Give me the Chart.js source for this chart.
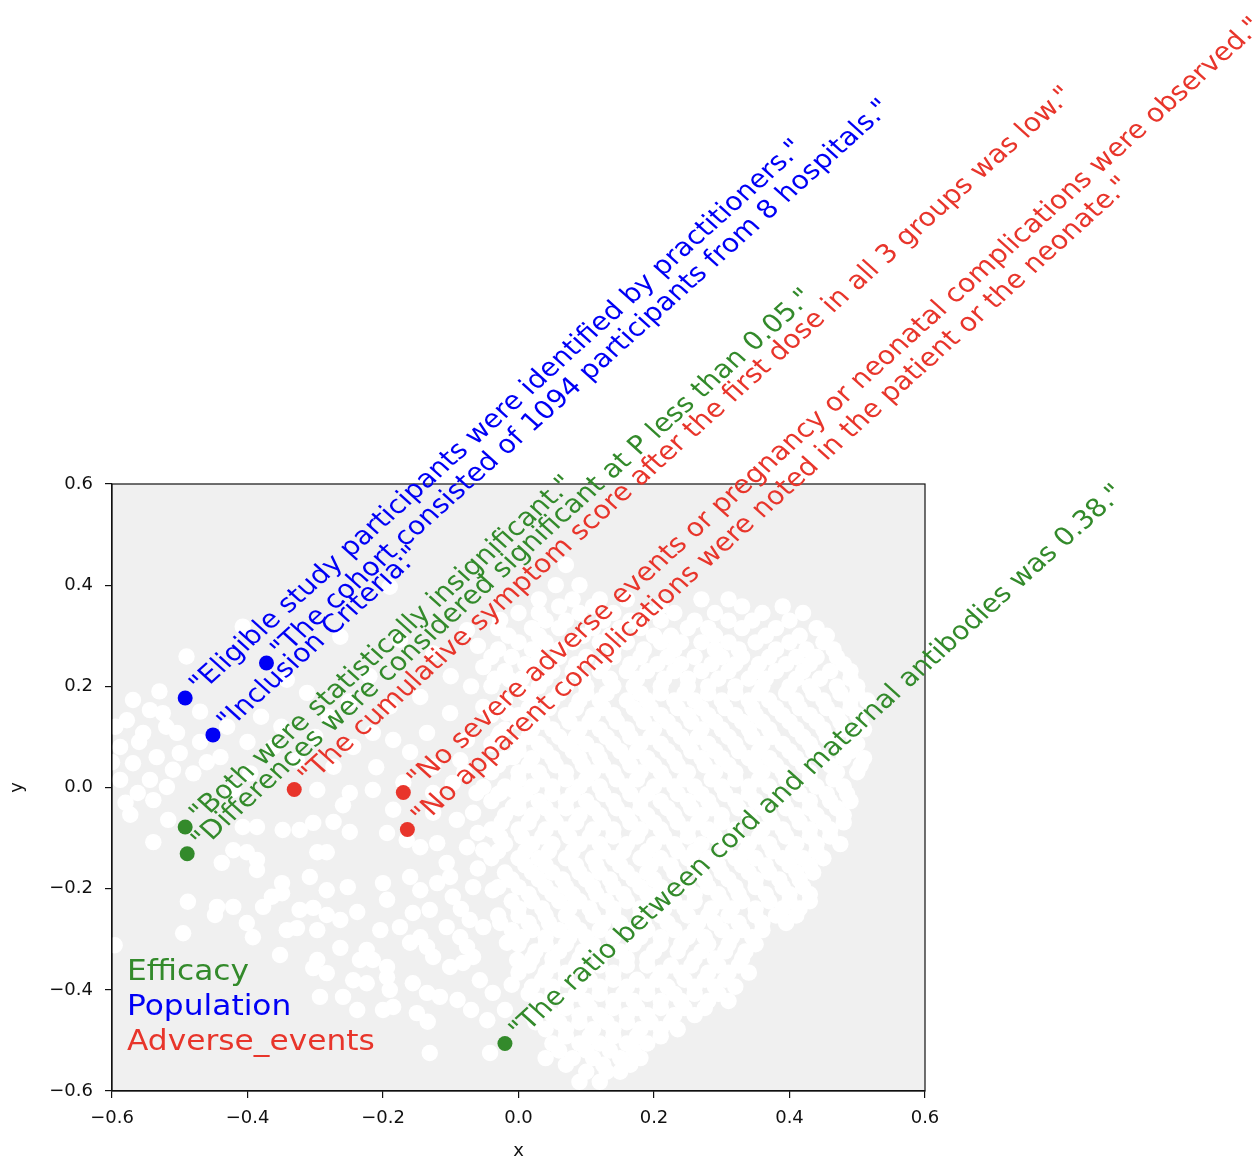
<!DOCTYPE html>
<html><head><meta charset="utf-8">
<script src="https://cdn.jsdelivr.net/npm/chart.js@4.4.1/dist/chart.umd.min.js"></script>
<style>html,body{margin:0;padding:0;background:#fff}</style>
</head><body>
<canvas id="c" width="1260" height="1158"></canvas>
<script>
// ---- categories / legend ----
const categories = ['Efficacy', 'Population', 'Adverse_events'];
const categoryColors = ['#338a2b', '#0000f5', '#e8352b'];

// ---- annotated points ----
const efficacyX = [-0.492, -0.489, -0.020];
const efficacyY = [-0.078, -0.131, -0.506];
const efficacyText = [
  '"Both were statistically insignificant."',
  '"Differences were considered significant at P less than 0.05."',
  '"The ratio between cord and maternal antibodies was 0.38."'
];
const populationX = [-0.492, -0.372, -0.451];
const populationY = [0.177, 0.246, 0.104];
const populationText = [
  '"Eligible study participants were identified by practitioners."',
  '"The cohort consisted of 1094 participants from 8 hospitals."',
  '"Inclusion Criteria:"'
];
const adverseX = [-0.331, -0.170, -0.164];
const adverseY = [-0.004, -0.010, -0.083];
const adverseText = [
  '"The cumulative symptom score after the first dose in all 3 groups was low."',
  '"No severe adverse events or pregnancy or neonatal complications were observed."',
  '"No apparent complications were noted in the patient or the neonate."'
];

// ---- axis ticks ----
const xTicks = [-0.6, -0.4, -0.2, 0.0, 0.2, 0.4, 0.6];
const yTicks = [-0.6, -0.4, -0.2, 0.0, 0.2, 0.4, 0.6];

// ---- background cloud: dense core, rows of [y, [x...]] ----
const cloudRows = [
  [0.44, [0.07]],
  [0.40, [0.055, 0.09]],
  [0.372, [0.03, 0.08, 0.12, 0.16, 0.27, 0.31]],
  [0.345, [0.00, 0.03, 0.09, 0.14, 0.19, 0.23, 0.29, 0.36, 0.42]],
  [0.315, [-0.03, 0.02, 0.06, 0.11, 0.15, 0.18, 0.25, 0.28, 0.33, 0.38, 0.44]],
  [0.287, [0.00, 0.04, 0.08, 0.12, 0.16, 0.21, 0.24, 0.27, 0.31, 0.35, 0.40, 0.45]],
  [0.258, [-0.04, -0.01, 0.03, 0.06, 0.10, 0.14, 0.18, 0.22, 0.26, 0.30, 0.33, 0.37, 0.41, 0.44, 0.47]],
  [0.23, [-0.02, 0.02, 0.05, 0.08, 0.12, 0.16, 0.19, 0.23, 0.27, 0.31, 0.35, 0.38, 0.42, 0.46, 0.49]],
  [0.20, [-0.04, 0.00, 0.03, 0.07, 0.10, 0.14, 0.17, 0.21, 0.25, 0.28, 0.32, 0.36, 0.40, 0.43, 0.47, 0.50]],
  [0.172, [-0.02, 0.02, 0.05, 0.09, 0.12, 0.16, 0.19, 0.23, 0.26, 0.30, 0.34, 0.37, 0.41, 0.45, 0.49, 0.515]],
  [0.143, [-0.04, 0.00, 0.03, 0.07, 0.11, 0.14, 0.18, 0.21, 0.25, 0.28, 0.32, 0.35, 0.39, 0.43, 0.47, 0.50]],
  [0.115, [-0.02, 0.02, 0.05, 0.09, 0.12, 0.16, 0.20, 0.23, 0.27, 0.30, 0.34, 0.37, 0.41, 0.45, 0.48, 0.51]],
  [0.086, [-0.04, 0.00, 0.03, 0.07, 0.10, 0.14, 0.18, 0.21, 0.25, 0.28, 0.32, 0.36, 0.39, 0.43, 0.47, 0.50]],
  [0.058, [-0.02, 0.02, 0.05, 0.09, 0.12, 0.16, 0.19, 0.23, 0.27, 0.30, 0.34, 0.37, 0.41, 0.45, 0.48, 0.51]],
  [0.03, [-0.04, 0.00, 0.03, 0.07, 0.11, 0.14, 0.18, 0.21, 0.25, 0.29, 0.32, 0.36, 0.39, 0.43, 0.47, 0.50]],
  [0.002, [-0.02, 0.02, 0.05, 0.09, 0.12, 0.16, 0.20, 0.23, 0.26, 0.30, 0.34, 0.37, 0.41, 0.44, 0.48]],
  [-0.027, [-0.04, 0.00, 0.03, 0.07, 0.10, 0.14, 0.18, 0.21, 0.25, 0.28, 0.32, 0.35, 0.39, 0.43, 0.46, 0.49]],
  [-0.055, [-0.02, 0.02, 0.05, 0.09, 0.12, 0.16, 0.19, 0.23, 0.27, 0.30, 0.34, 0.37, 0.41, 0.44, 0.48]],
  [-0.083, [-0.04, 0.00, 0.04, 0.07, 0.11, 0.14, 0.18, 0.21, 0.25, 0.28, 0.32, 0.36, 0.39, 0.43, 0.46]],
  [-0.112, [-0.02, 0.02, 0.05, 0.09, 0.12, 0.16, 0.20, 0.23, 0.27, 0.30, 0.34, 0.37, 0.41, 0.44, 0.475]],
  [-0.14, [-0.04, 0.00, 0.03, 0.07, 0.11, 0.14, 0.18, 0.21, 0.25, 0.28, 0.32, 0.35, 0.39, 0.42, 0.45]],
  [-0.168, [-0.02, 0.02, 0.05, 0.09, 0.12, 0.16, 0.19, 0.23, 0.27, 0.30, 0.34, 0.37, 0.41, 0.435]],
  [-0.197, [-0.03, 0.00, 0.04, 0.07, 0.11, 0.14, 0.18, 0.21, 0.25, 0.28, 0.32, 0.35, 0.39, 0.42]],
  [-0.225, [-0.01, 0.02, 0.06, 0.09, 0.13, 0.16, 0.20, 0.23, 0.26, 0.30, 0.33, 0.37, 0.40, 0.43]],
  [-0.253, [-0.03, 0.00, 0.04, 0.07, 0.11, 0.14, 0.18, 0.21, 0.25, 0.28, 0.31, 0.35, 0.38, 0.41]],
  [-0.282, [-0.01, 0.02, 0.06, 0.09, 0.12, 0.16, 0.19, 0.23, 0.26, 0.30, 0.33, 0.36]],
  [-0.31, [0.00, 0.04, 0.07, 0.11, 0.17, 0.21, 0.24, 0.28, 0.31, 0.35]],
  [-0.338, [0.02, 0.05, 0.09, 0.12, 0.16, 0.19, 0.26, 0.29, 0.33]],
  [-0.366, [0.00, 0.04, 0.07, 0.10, 0.14, 0.21, 0.24, 0.28, 0.31, 0.34]],
  [-0.394, [0.02, 0.05, 0.09, 0.12, 0.16, 0.19, 0.22, 0.26, 0.29, 0.32]],
  [-0.422, [0.03, 0.07, 0.10, 0.14, 0.17, 0.21, 0.24, 0.28, 0.31]],
  [-0.45, [0.02, 0.05, 0.09, 0.12, 0.16, 0.19, 0.23, 0.26]],
  [-0.478, [0.04, 0.07, 0.11, 0.14, 0.18, 0.21, 0.235]],
  [-0.506, [0.05, 0.09, 0.12, 0.16, 0.19]],
  [-0.535, [0.04, 0.08, 0.11, 0.15, 0.18]],
  [-0.562, [0.10, 0.13, 0.15]],
  [-0.582, [0.09, 0.12]]
];

// ---- background cloud: in-between rows of the core [y, [x...]] ----
const cloudRowsMid = [
  [0.358, [0.06, 0.11, 0.21, 0.33, 0.39]],
  [0.33, [0.04, 0.07, 0.125, 0.165, 0.21, 0.26, 0.31, 0.345, 0.40]],
  [0.30, [-0.015, 0.03, 0.095, 0.135, 0.20, 0.225, 0.29, 0.365, 0.415, 0.455]],
  [0.273, [-0.03, 0.02, 0.06, 0.14, 0.185, 0.23, 0.29, 0.325, 0.38, 0.425, 0.465]],
  [0.244, [0.01, 0.045, 0.085, 0.125, 0.165, 0.205, 0.24, 0.285, 0.32, 0.355, 0.395, 0.43, 0.48]],
  [0.215, [-0.035, 0.005, 0.04, 0.095, 0.135, 0.175, 0.215, 0.25, 0.295, 0.34, 0.365, 0.41, 0.445, 0.49]],
  [0.186, [0.01, 0.06, 0.10, 0.13, 0.18, 0.21, 0.245, 0.28, 0.32, 0.355, 0.395, 0.435, 0.475, 0.50]],
  [0.157, [-0.03, 0.015, 0.045, 0.085, 0.125, 0.17, 0.195, 0.235, 0.27, 0.305, 0.345, 0.38, 0.415, 0.455, 0.49]],
  [0.13, [0.00, 0.035, 0.075, 0.105, 0.145, 0.185, 0.22, 0.255, 0.29, 0.33, 0.36, 0.40, 0.44, 0.475, 0.505]],
  [0.10, [-0.03, 0.015, 0.06, 0.085, 0.13, 0.165, 0.195, 0.24, 0.265, 0.31, 0.345, 0.375, 0.42, 0.455, 0.495]],
  [0.072, [0.00, 0.04, 0.08, 0.115, 0.15, 0.175, 0.22, 0.255, 0.29, 0.325, 0.355, 0.40, 0.435, 0.49]],
  [0.044, [-0.03, 0.015, 0.055, 0.095, 0.125, 0.165, 0.20, 0.235, 0.275, 0.31, 0.35, 0.38, 0.42, 0.46, 0.505]],
  [0.016, [0.00, 0.035, 0.07, 0.10, 0.145, 0.175, 0.215, 0.245, 0.285, 0.32, 0.355, 0.395, 0.43, 0.465]],
  [-0.013, [-0.03, 0.01, 0.05, 0.08, 0.125, 0.165, 0.19, 0.235, 0.27, 0.305, 0.34, 0.38, 0.415, 0.455, 0.485]],
  [-0.041, [0.00, 0.04, 0.07, 0.11, 0.145, 0.18, 0.22, 0.255, 0.285, 0.325, 0.36, 0.395, 0.43, 0.47]],
  [-0.069, [-0.025, 0.015, 0.055, 0.085, 0.125, 0.165, 0.20, 0.235, 0.265, 0.30, 0.345, 0.375, 0.415, 0.45, 0.48]],
  [-0.097, [0.005, 0.035, 0.075, 0.105, 0.14, 0.175, 0.215, 0.25, 0.29, 0.32, 0.355, 0.395, 0.43, 0.46]],
  [-0.126, [-0.03, 0.01, 0.045, 0.08, 0.125, 0.155, 0.19, 0.235, 0.26, 0.305, 0.335, 0.375, 0.405, 0.44]],
  [-0.154, [0.01, 0.04, 0.085, 0.115, 0.15, 0.195, 0.225, 0.26, 0.295, 0.33, 0.365, 0.40, 0.43]],
  [-0.182, [-0.01, 0.03, 0.065, 0.10, 0.135, 0.17, 0.20, 0.24, 0.275, 0.31, 0.35, 0.385, 0.415]],
  [-0.211, [0.015, 0.05, 0.08, 0.115, 0.155, 0.19, 0.225, 0.26, 0.295, 0.325, 0.365, 0.40, 0.43]],
  [-0.239, [0.00, 0.035, 0.075, 0.105, 0.14, 0.18, 0.215, 0.245, 0.285, 0.315, 0.35, 0.39, 0.415]],
  [-0.268, [0.015, 0.045, 0.08, 0.125, 0.15, 0.185, 0.22, 0.265, 0.29, 0.325, 0.36, 0.395]],
  [-0.296, [0.005, 0.04, 0.075, 0.10, 0.14, 0.18, 0.21, 0.25, 0.275, 0.315, 0.345]],
  [-0.324, [0.025, 0.06, 0.095, 0.13, 0.15, 0.20, 0.235, 0.27, 0.305, 0.335]],
  [-0.352, [0.015, 0.05, 0.085, 0.12, 0.16, 0.19, 0.225, 0.255, 0.295, 0.325]],
  [-0.38, [0.035, 0.07, 0.105, 0.14, 0.175, 0.205, 0.245, 0.275, 0.305]],
  [-0.408, [0.015, 0.05, 0.085, 0.12, 0.155, 0.19, 0.23, 0.26, 0.295]],
  [-0.436, [0.04, 0.07, 0.105, 0.14, 0.175, 0.21, 0.245, 0.275]],
  [-0.464, [0.025, 0.06, 0.09, 0.13, 0.16, 0.195, 0.225]],
  [-0.492, [0.07, 0.105, 0.14, 0.175, 0.21]],
  [-0.52, [0.06, 0.10, 0.135, 0.17]],
  [-0.548, [0.07, 0.125, 0.165]]
];

// ---- background cloud: scattered points [x, y] ----
const cloudScatter = [
  [-0.562,-0.011],[-0.573,-0.054],[-0.539,-0.025],[-0.539,-0.108],[-0.517,-0.064],[-0.488,-0.226],
  [-0.495,-0.288],[-0.596,-0.312],[-0.445,-0.236],[-0.448,-0.252],[-0.421,-0.236],[-0.438,-0.149],
  [-0.421,-0.124],[-0.401,-0.128],[-0.386,-0.143],[-0.386,-0.163],[-0.401,-0.268],[-0.392,-0.296],
  [-0.377,-0.236],[-0.364,-0.216],[-0.349,-0.189],[-0.349,-0.209],[-0.407,-0.078],[-0.386,-0.078],
  [-0.348,-0.084],[-0.323,-0.084],[-0.303,-0.070],[-0.273,-0.068],[-0.249,-0.088],[-0.297,-0.128],
  [-0.283,-0.128],[-0.308,-0.177],[-0.283,-0.203],[-0.252,-0.197],[-0.200,-0.189],[-0.194,-0.222],
  [-0.323,-0.242],[-0.303,-0.238],[-0.283,-0.252],[-0.263,-0.262],[-0.342,-0.282],[-0.327,-0.278],
  [-0.297,-0.282],[-0.238,-0.246],[-0.204,-0.282],[-0.352,-0.331],[-0.297,-0.341],[-0.303,-0.357],
  [-0.283,-0.367],[-0.263,-0.317],[-0.224,-0.321],[-0.234,-0.341],[-0.215,-0.341],[-0.194,-0.355],
  [-0.244,-0.381],[-0.224,-0.387],[-0.194,-0.375],[-0.190,-0.400],[-0.293,-0.414],[-0.259,-0.414],
  [-0.238,-0.440],[-0.200,-0.440],[-0.185,-0.434],[-0.175,-0.276],[-0.160,-0.307],[-0.145,-0.296],
  [-0.135,-0.315],[-0.126,-0.335],[-0.156,-0.387],[-0.135,-0.406],[-0.116,-0.414],[-0.150,-0.446],
  [-0.134,-0.463],[-0.131,-0.525],[-0.160,-0.177],[-0.145,-0.203],[-0.120,-0.189],[-0.101,-0.177],
  [-0.097,-0.216],[-0.156,-0.248],[-0.131,-0.242],[-0.106,-0.276],[-0.086,-0.296],[-0.076,-0.315],
  [-0.101,-0.355],[-0.082,-0.347],[-0.067,-0.335],[-0.057,-0.381],[-0.038,-0.406],[-0.072,-0.262],
  [-0.052,-0.276],[-0.027,-0.268],[-0.067,-0.197],[-0.038,-0.203],[-0.013,-0.183],[-0.046,-0.460],
  [-0.042,-0.525],[-0.017,-0.307],[-0.002,-0.341],[-0.076,-0.118],[-0.052,-0.124],[-0.027,-0.098],
  [-0.120,-0.110],[-0.106,-0.149],[-0.165,-0.104],[-0.145,-0.118],[-0.194,-0.090],[-0.185,-0.044],
  [-0.126,-0.050],[-0.091,-0.064],[-0.067,-0.050],[-0.038,-0.084],[-0.126,-0.011],[-0.097,0.009],
  [-0.062,-0.011],[-0.027,-0.011],[-0.008,-0.038],[-0.259,-0.035],[-0.215,-0.005],[-0.297,-0.005],
  [-0.490,0.259],[-0.569,0.173],[-0.544,0.153],[-0.578,0.133],[-0.525,0.147],[-0.504,0.108],
  [-0.554,0.108],[-0.588,0.080],[-0.569,0.048],[-0.534,0.060],[-0.500,0.068],[-0.480,0.028],
  [-0.588,0.015],[-0.544,0.015],[-0.519,0.001],[-0.510,0.035],[-0.407,0.318],[-0.263,0.298],
  [-0.342,0.213],[-0.312,0.187],[-0.362,0.080],[-0.327,0.054],[-0.396,0.028],[-0.421,-0.005],
  [-0.273,0.041],[-0.244,0.080],[-0.215,0.108],[-0.249,-0.011],[-0.190,0.397],[-0.175,0.292],
  [-0.126,0.265],[-0.076,0.311],[-0.027,0.331],[-0.052,0.238],[-0.013,0.213],[-0.145,0.179],
  [-0.101,0.147],[-0.052,0.159],[-0.017,0.147],[-0.185,0.094],[-0.135,0.108],[-0.076,0.094],
  [-0.027,0.108],[-0.126,0.041],[-0.086,0.054],[-0.038,0.041],[-0.008,0.060],[-0.052,0.001],
  [-0.008,-0.005],[-0.595,0.120],[-0.560,0.090],[-0.520,0.120],[-0.470,0.090],[-0.460,0.050],
  [-0.580,-0.030],[-0.600,0.050],[-0.530,0.190],[-0.470,0.150],[-0.440,0.060],[-0.430,0.120],
  [-0.400,0.090],[-0.380,0.140],[-0.350,0.120],[-0.300,0.100],[-0.280,0.140],[-0.250,0.170],
  [-0.220,0.220],[-0.190,0.160],[-0.160,0.070],[-0.210,0.040],[-0.170,0.010],
  [-0.085,-0.240],[-0.060,-0.160],[-0.090,-0.420],[-0.070,-0.440],[-0.020,-0.440],[-0.010,-0.390],
  [-0.060,-0.090],[-0.080,0.030],[-0.070,0.200],[-0.100,0.220],[-0.060,0.280]
];

// ---- build chart data from the arrays ----
const cloudPoints = [];
cloudRows.concat(cloudRowsMid).forEach(([y, xs]) => xs.forEach(x => cloudPoints.push({x: x, y: y})));
cloudScatter.forEach(([x, y]) => cloudPoints.push({x: x, y: y}));
const toPts = (xs, ys) => xs.map((x, i) => ({x: x, y: ys[i]}));
const groupTexts = [efficacyText, populationText, adverseText];

const FONT = '"DejaVu Sans", "Liberation Sans", sans-serif';
const SX = 1.06, SY = 0.955;   // horizontal / vertical stretch of the reference figure
const ANNOT_SIZE = 26.7;
const LEGEND_SIZE = 29.5;

const fmtTick = v => (v < -1e-9 ? '\u2212' : '') + Math.abs(v).toFixed(1);

const overlayPlugin = {
  id: 'overlay',
  beforeDraw(chart) {
    const a = chart.chartArea, ctx = chart.ctx;
    ctx.save();
    ctx.fillStyle = '#f0f0f0';
    ctx.fillRect(a.left, a.top, a.right - a.left, a.bottom - a.top);
    ctx.restore();
  },
  afterDatasetsDraw(chart) {
    const a = chart.chartArea, ctx = chart.ctx;
    ctx.save();
    ctx.strokeStyle = '#111';
    ctx.lineWidth = 1.2;
    ctx.strokeRect(a.left, a.top, a.right - a.left, a.bottom - a.top);
    groupTexts.forEach((texts, gi) => {
      const meta = chart.getDatasetMeta(gi);
      meta.data.forEach((pt, i) => {
        ctx.save();
        ctx.translate(pt.x, pt.y);
        ctx.scale(SX, SY);
        ctx.rotate(-Math.PI / 4);
        ctx.font = ANNOT_SIZE + 'px ' + FONT;
        ctx.fillStyle = categoryColors[gi];
        ctx.textAlign = 'left';
        ctx.textBaseline = 'alphabetic';
        ctx.fillText(texts[i], 0.498 * ANNOT_SIZE, 0.262 * ANNOT_SIZE);
        ctx.restore();
      });
    });
    categories.forEach((c, i) => {
      ctx.save();
      ctx.translate(a.left + 15, a.bottom - 111 + i * 35);
      ctx.scale(SX, SY);
      ctx.font = LEGEND_SIZE + 'px ' + FONT;
      ctx.fillStyle = categoryColors[i];
      ctx.textAlign = 'left';
      ctx.textBaseline = 'alphabetic';
      ctx.fillText(c, 0, 0);
      ctx.restore();
    });
    ctx.restore();
  }
};

const axisCommon = {
  type: 'linear',
  min: -0.6,
  max: 0.6,
  grid: { drawOnChartArea: false, drawTicks: true, tickLength: 7, color: '#111', lineWidth: 1.2 },
  border: { display: true, color: '#111', width: 1.2 }
};

new Chart(document.getElementById('c'), {
  type: 'scatter',
  data: {
    datasets: [
      { label: categories[0], data: toPts(efficacyX, efficacyY), backgroundColor: categoryColors[0], pointRadius: 7.5, borderWidth: 0, order: 0 },
      { label: categories[1], data: toPts(populationX, populationY), backgroundColor: categoryColors[1], pointRadius: 7.5, borderWidth: 0, order: 0 },
      { label: categories[2], data: toPts(adverseX, adverseY), backgroundColor: categoryColors[2], pointRadius: 7.5, borderWidth: 0, order: 0 },
      { label: 'cloud', data: cloudPoints, backgroundColor: '#ffffff', pointRadius: 8.2, borderWidth: 0, order: 1 }
    ]
  },
  options: {
    responsive: false,
    animation: false,
    devicePixelRatio: 1,
    events: [],
    layout: { padding: { left: 0, top: 484, right: 335, bottom: 0 } },
    plugins: { legend: { display: false }, tooltip: { enabled: false } },
    scales: {
      x: Object.assign({}, axisCommon, {
        position: 'bottom',
        afterBuildTicks: s => { s.ticks = xTicks.map(v => ({ value: v })); },
        afterFit: s => { s.height = 67; },
        ticks: { callback: fmtTick, font: { family: FONT, size: 18 }, color: '#111', padding: 10, maxRotation: 0, autoSkip: false },
        title: { display: true, text: 'x', font: { family: FONT, size: 18 }, color: '#111', padding: { top: 0, bottom: -4 } }
      }),
      y: Object.assign({}, axisCommon, {
        position: 'left',
        afterBuildTicks: s => { s.ticks = yTicks.map(v => ({ value: v })); },
        afterFit: s => { s.width = 112; },
        ticks: { callback: fmtTick, font: { family: FONT, size: 18 }, color: '#111', padding: 12, autoSkip: false },
        title: { display: true, text: 'y', font: { family: FONT, size: 18 }, color: '#111', padding: { top: 7, bottom: 0 } }
      })
    }
  },
  plugins: [overlayPlugin]
});
</script>
</body></html>
